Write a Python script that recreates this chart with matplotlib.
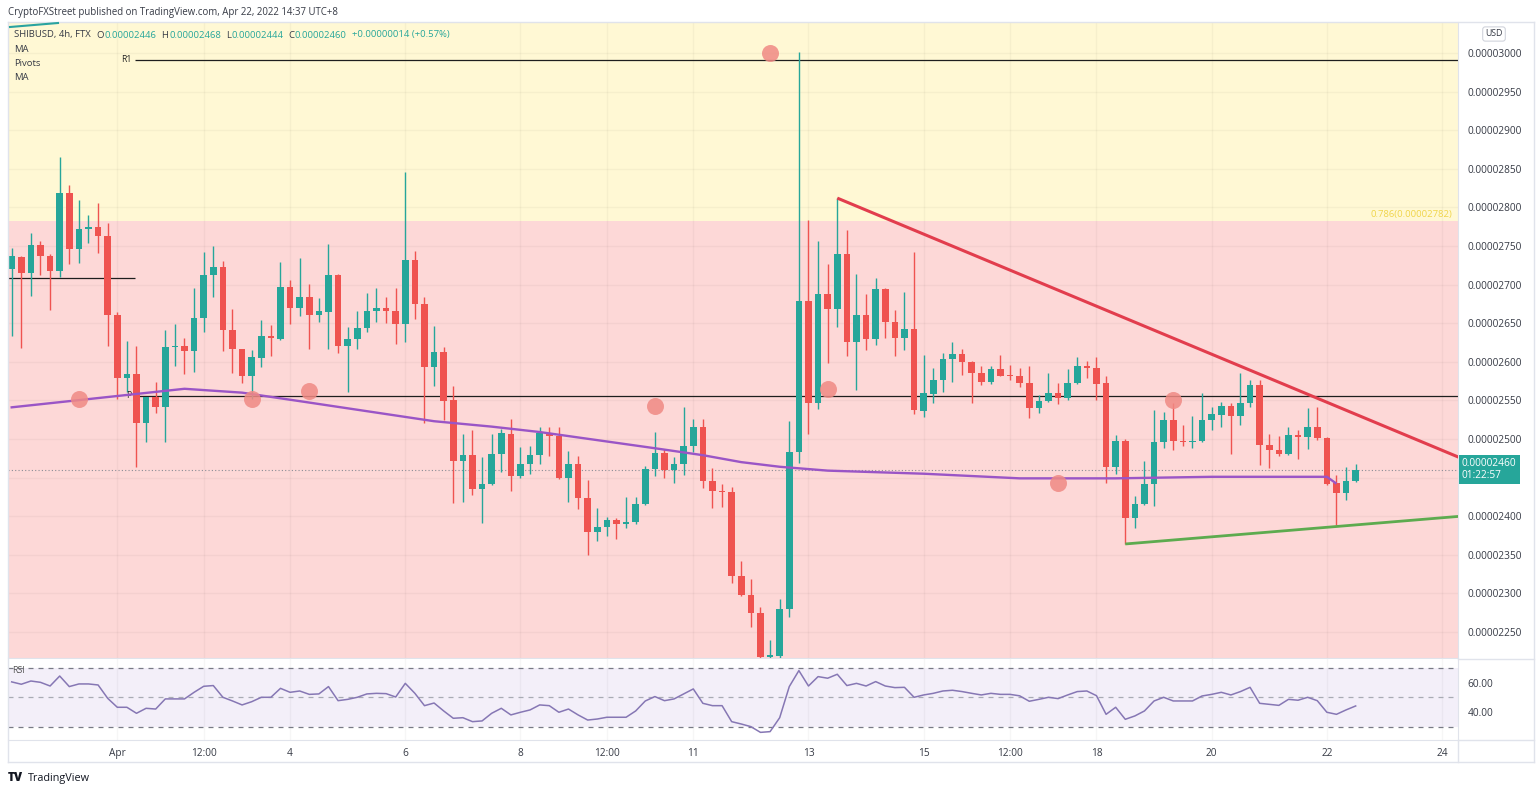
import numpy as np
import matplotlib.pyplot as plt
from matplotlib.lines import Line2D
from matplotlib.transforms import blended_transform_factory

plt.rcParams['font.family'] = ['Open Sans', 'DejaVu Sans']

W, H = 1536, 793

def fx(x):
    return x / W

def fy(y):
    return 1 - y / H

##########################################
######### Data (prices in 1e-8 USD, 4h candles from Mar 30 04:00)
opens = [2720, 2736, 2715, 2751, 2737, 2718, 2818, 2746, 2772, 2774,
         2763, 2660, 2579, 2584, 2521, 2554, 2541, 2619, 2620, 2614,
         2657, 2713, 2723, 2641, 2616, 2582, 2605, 2634, 2630, 2697,
         2670, 2684, 2661, 2665, 2713, 2620, 2630, 2644, 2666, 2670,
         2666, 2649, 2732, 2675, 2593, 2613, 2550, 2472, 2479, 2435,
         2442, 2480, 2507, 2452, 2468, 2479, 2508, 2504, 2450, 2467,
         2424, 2380, 2386, 2395, 2390, 2392, 2416, 2461, 2482, 2460,
         2467, 2491, 2516, 2446, 2432, 2431, 2323, 2298, 2275, 2217,
         2219, 2280, 2483, 2679, 2546, 2688, 2669, 2739, 2626, 2661,
         2629, 2694, 2651, 2631, 2643, 2536, 2558, 2577, 2604, 2610,
         2600, 2585, 2574, 2590, 2582, 2581, 2573, 2540, 2549, 2560,
         2553, 2573, 2594, 2592, 2572, 2464, 2498, 2398, 2416, 2442,
         2496, 2524, 2498, 2496, 2498, 2525, 2531, 2543, 2530, 2546,
         2570, 2492, 2486, 2480, 2505, 2502, 2515, 2501, 2443, 2430,
         2446]
highs = [2747, 2737, 2767, 2757, 2739, 2865, 2829, 2809, 2790, 2806,
         2780, 2664, 2627, 2620, 2554, 2574, 2641, 2649, 2631, 2695,
         2742, 2750, 2731, 2669, 2617, 2615, 2654, 2647, 2729, 2706,
         2735, 2701, 2682, 2752, 2714, 2645, 2666, 2689, 2696, 2684,
         2696, 2846, 2744, 2684, 2646, 2619, 2568, 2507, 2511, 2477,
         2507, 2513, 2526, 2490, 2491, 2516, 2516, 2516, 2485, 2478,
         2447, 2410, 2399, 2398, 2425, 2425, 2465, 2509, 2487, 2477,
         2542, 2526, 2526, 2463, 2442, 2438, 2342, 2319, 2282, 2239,
         2293, 2523, 3001, 2783, 2756, 2727, 2812, 2771, 2714, 2688,
         2709, 2695, 2667, 2690, 2742, 2609, 2592, 2611, 2626, 2617,
         2601, 2594, 2594, 2609, 2596, 2592, 2594, 2557, 2585, 2572,
         2590, 2606, 2601, 2606, 2581, 2505, 2500, 2426, 2471, 2537,
         2535, 2547, 2518, 2530, 2560, 2542, 2548, 2546, 2586, 2577,
         2577, 2506, 2504, 2515, 2512, 2540, 2541, 2502, 2453, 2464,
         2468]
lows = [2634, 2618, 2685, 2712, 2667, 2710, 2726, 2728, 2754, 2741,
        2621, 2552, 2561, 2464, 2496, 2533, 2496, 2595, 2584, 2587,
        2639, 2684, 2614, 2585, 2572, 2552, 2593, 2607, 2628, 2649,
        2659, 2616, 2652, 2617, 2611, 2561, 2616, 2639, 2652, 2650,
        2623, 2626, 2655, 2521, 2568, 2524, 2417, 2419, 2427, 2391,
        2441, 2457, 2433, 2450, 2454, 2468, 2478, 2448, 2419, 2409,
        2350, 2368, 2374, 2370, 2385, 2390, 2415, 2452, 2450, 2443,
        2453, 2483, 2437, 2411, 2412, 2313, 2296, 2257, 2205, 2205,
        2215, 2270, 2469, 2506, 2539, 2598, 2645, 2607, 2564, 2615,
        2622, 2631, 2607, 2615, 2532, 2529, 2546, 2561, 2574, 2583,
        2546, 2570, 2571, 2582, 2576, 2567, 2527, 2534, 2548, 2545,
        2551, 2571, 2579, 2550, 2443, 2455, 2364, 2385, 2414, 2413,
        2488, 2486, 2491, 2488, 2496, 2512, 2516, 2480, 2518, 2542,
        2466, 2462, 2478, 2479, 2474, 2487, 2499, 2440, 2388, 2421,
        2444]
closes = [2737, 2715, 2751, 2737, 2718, 2818, 2746, 2772, 2774, 2763,
          2660, 2579, 2584, 2521, 2554, 2541, 2619, 2620, 2614, 2657,
          2713, 2723, 2641, 2616, 2582, 2606, 2634, 2631, 2697, 2670,
          2684, 2661, 2666, 2713, 2620, 2630, 2644, 2666, 2670, 2666,
          2649, 2732, 2675, 2593, 2613, 2549, 2472, 2479, 2435, 2442,
          2480, 2508, 2452, 2468, 2479, 2508, 2504, 2450, 2467, 2424,
          2380, 2386, 2395, 2390, 2392, 2416, 2461, 2482, 2460, 2467,
          2491, 2516, 2446, 2432, 2431, 2323, 2298, 2275, 2217, 2220,
          2280, 2483, 2679, 2546, 2688, 2669, 2739, 2626, 2661, 2629,
          2694, 2651, 2631, 2643, 2537, 2559, 2577, 2604, 2610, 2600,
          2585, 2574, 2590, 2582, 2581, 2573, 2540, 2549, 2560, 2553,
          2573, 2594, 2592, 2571, 2464, 2498, 2398, 2416, 2442, 2496,
          2524, 2498, 2496, 2498, 2525, 2532, 2543, 2530, 2546, 2570,
          2492, 2486, 2480, 2505, 2502, 2515, 2501, 2442, 2430, 2446,
          2460]
rsi = [60.5, 58.9, 61.1, 60.2, 57.7, 64.5, 57.3, 59.1, 59.1, 58.4,
       49.3, 43.2, 43.2, 39.1, 42.5, 42.0, 48.9, 48.9, 48.9, 53.4,
       57.5, 58.0, 50.0, 47.5, 44.8, 47.0, 50.0, 50.0, 56.1, 53.4,
       54.3, 52.0, 52.3, 57.3, 47.7, 48.6, 50.0, 52.3, 52.7, 52.5,
       50.2, 59.5, 52.7, 44.3, 46.1, 40.7, 35.7, 36.1, 33.4, 33.9,
       39.1, 42.5, 38.0, 39.8, 41.4, 44.8, 44.3, 39.8, 42.0, 38.0,
       34.5, 35.2, 36.4, 36.4, 36.4, 40.7, 47.5, 50.5, 47.7, 48.9,
       52.3, 55.7, 45.9, 44.3, 44.3, 33.4, 31.8, 30.0, 26.1, 26.6,
       36.1, 57.3, 68.2, 57.7, 64.1, 63.0, 65.7, 58.0, 59.5, 57.7,
       60.7, 57.7, 56.6, 56.8, 50.0, 51.6, 52.7, 54.3, 54.8, 53.9,
       52.7, 51.6, 52.7, 52.0, 52.0, 51.0, 47.3, 48.6, 50.0, 49.1,
       51.6, 53.9, 54.3, 51.1, 38.4, 43.2, 35.0, 37.3, 40.7, 47.5,
       50.0, 47.5, 47.5, 47.5, 50.9, 52.0, 53.4, 51.6, 53.9, 56.8,
       45.9, 45.2, 44.5, 48.6, 48.0, 50.0, 47.7, 39.8, 38.4, 41.4,
       44.1]

# moving average read at a few candles
ma_idx = [0, 18, 24, 30, 44, 50, 55, 67, 72, 76, 80, 85, 95, 105, 115, 125, 137, 137.9]
ma_vals = [2541, 2565, 2560, 2549, 2523, 2516, 2509, 2488, 2479, 2470,
           2464, 2459, 2455, 2449, 2449, 2451, 2451, 2443]

# marked points
dot_idx = [7, 25, 31, 67, 79, 85, 109, 121]
dot_vals = [2552, 2552, 2562, 2543, 3000, 2565, 2443, 2550]

# pivots / fib
r1_level = 2991
p_level = 2556
prev_p_level = 2709
pivot_start = 12.85
fib_level = 2782

# trend lines (candle index, price)
res_line = ([86, 151], [2812, 2475])
sup_line = ([116, 151], [2364, 2400])

price_ticks = list(range(2250, 3001, 50))
tick_pos = [11, 20, 29, 41, 53, 62, 71, 83, 95, 104, 113, 125, 137, 149]
tick_labels = ["Apr", "12:00", "4", "6", "8", "12:00", "11", "13", "15",
               "12:00", "18", "20", "22", "24"]

GREEN = '#26a69a'
RED = '#ef5350'
TXT = '#363a45'
XLIM = (-0.385, 150.66)

##########################################
######### Figure
fig = plt.figure(figsize=(W / 100, H / 100), dpi=100)
fig.patch.set_facecolor('white')

ax = fig.add_axes([fx(8), fy(658), fx(1458) - fx(8), (658 - 22) / H])
ax.set_xlim(*XLIM)
ax.set_ylim(2216.3, 3040.1)
ax.axhspan(fib_level, 3200, color='#fff8d4', zorder=0, lw=0)
ax.axhspan(2000, fib_level, color='#fdd8d7', zorder=0, lw=0)
for p in price_ticks:
    ax.axhline(p, color='k', alpha=0.035, lw=1, zorder=0.5)
for t in tick_pos:
    ax.axvline(t, color='k', alpha=0.035, lw=1, zorder=0.5)

### candles
o = np.array(opens)
h = np.array(highs)
l = np.array(lows)
c = np.array(closes)
idx = np.arange(len(o))
cols = np.where(c >= o, GREEN, RED)
bottoms = np.minimum(o, c)
heights = np.maximum(np.abs(c - o), 1.3)
ax.vlines(idx, l, h, colors=cols, lw=1, zorder=3)
ax.bar(idx, heights, bottom=bottoms, width=0.7, color=cols, lw=0, zorder=4)

### pivots
ax.hlines([r1_level, p_level], pivot_start, XLIM[1], color='#1e1e1e', lw=0.9, zorder=2)
ax.hlines(prev_p_level, XLIM[0], pivot_start, color='#1e1e1e', lw=0.9, zorder=2)
ax.text(pivot_start - 0.4, r1_level, "R1", ha='right', va='center', fontsize=6.2, color='#222')
ax.text(pivot_start - 0.4, p_level, "P", ha='right', va='center', fontsize=6.2, color='#222', zorder=5)

### MA, last price
ax.plot(ma_idx, ma_vals, color='#9a55c6', lw=1.7, zorder=5)
ax.axhline(c[-1], color='#8a8d96', lw=0.8, ls=(0, (1, 2)), zorder=2)

### dots and trend lines
ax.scatter(dot_idx, dot_vals, s=150, color='#f08a84', alpha=0.85, lw=0, zorder=6)
ax.plot(res_line[0], res_line[1], color='#e23d4d', lw=2.2, zorder=7, solid_capstyle='butt')
ax.plot(sup_line[0], sup_line[1], color='#5dab4f', lw=2.0, zorder=7, solid_capstyle='butt')

ax.text(XLIM[1] - 0.6, fib_level + 3, "0.786(0.00002782)", ha='right', va='bottom',
        fontsize=6.8, color='#f0d54a')

### price axis (the label under the last price box is hidden, as on TradingView)
ax.yaxis.tick_right()
ax.set_yticks(price_ticks)
ax.set_yticklabels(["" if abs(p - c[-1]) < 20 else f"{p * 1e-8:.8f}" for p in price_ticks])
ax.tick_params(axis='y', length=0, pad=7, labelsize=7.3, labelcolor=TXT)
ax.set_xticks([])
for s in ['top', 'left']:
    ax.spines[s].set_visible(False)
for s in ['right', 'bottom']:
    ax.spines[s].set_color('#e0e3eb')

trans = blended_transform_factory(fig.transFigure, ax.transData)
ax.text(fx(1462), c[-1], f"{c[-1] * 1e-8:.8f}\n01:22:57", transform=trans,
        ha='left', va='center', color='white', fontsize=7.3, linespacing=1.15,
        bbox=dict(boxstyle='square,pad=0.3', fc=GREEN, ec='none'),
        clip_on=False, zorder=10)

##########################################
######### RSI pane
rax = fig.add_axes([fx(8), fy(740), fx(1458) - fx(8), (740 - 659) / H])
rax.set_xlim(*XLIM)
rax.set_ylim(20.9, 76.1)
rax.axhspan(30, 70, color='#7e57c2', alpha=0.09, lw=0)
for t in tick_pos:
    rax.axvline(t, color='k', alpha=0.035, lw=1)
rax.axhline(70, color='#787b86', lw=0.9, ls=(0, (4, 4)))
rax.axhline(50, color='#a8abb4', lw=0.9, ls=(0, (4, 4)))
rax.axhline(30, color='#787b86', lw=0.9, ls=(0, (4, 4)))
rax.plot(idx, rsi, color='#8677b4', lw=1.1)
rax.text(0.003, 0.86, "RSI", transform=rax.transAxes, fontsize=6.3, color='#555', va='center')

rax.yaxis.tick_right()
rax.set_yticks([40, 60])
rax.set_yticklabels(["40.00", "60.00"])
rax.tick_params(axis='y', length=0, pad=7, labelsize=7.3, labelcolor=TXT)
rax.set_xticks(tick_pos)
rax.set_xticklabels(tick_labels)
rax.tick_params(axis='x', length=0, pad=6, labelsize=7.3, labelcolor=TXT)
for s in ['top', 'left']:
    rax.spines[s].set_visible(False)
for s in ['right', 'bottom']:
    rax.spines[s].set_color('#e0e3eb')

### frame lines
frame = [([8, 1534], [762, 762]), ([8, 1534], [22, 22]), ([1534, 1534], [22, 762]),
         ([1458, 1458], [740, 762]), ([1458, 1534], [740, 740]), ([1458, 1534], [659, 659]),
         ([8, 8], [22, 762])]
for xs, ys in frame:
    fig.add_artist(Line2D([fx(v) for v in xs], [fy(v) for v in ys], color='#e0e3eb', lw=1))
fig.add_artist(Line2D([fx(10), fx(58)], [fy(27), fy(23)], color='#2aa3a0', lw=1.5))

##########################################
######### Texts
fig.text(fx(8), fy(12), "CryptoFXStreet published on TradingView.com, Apr 22, 2022 14:37 UTC+8",
         fontsize=6.9, color=TXT, va='center')
fig.text(fx(1494), fy(34), "USD", ha='center', va='center', fontsize=6.3, color=TXT,
         bbox=dict(boxstyle='round,pad=0.3', fc='white', ec='#d1d4dc', lw=0.8))

### legend line, laid out piece by piece
chg = c[-1] - c[-2]
pct = chg / c[-2] * 100
legend_parts = [("SHIBUSD, 4h, FTX", TXT, 6),
                ("O", TXT, 0.5), (f"{o[-1] * 1e-8:.8f}", GREEN, 5),
                ("H", TXT, 0.5), (f"{h[-1] * 1e-8:.8f}", GREEN, 5),
                ("L", TXT, 0.5), (f"{l[-1] * 1e-8:.8f}", GREEN, 5),
                ("C", TXT, 0.5), (f"{c[-1] * 1e-8:.8f}", GREEN, 5),
                (f"+{chg * 1e-8:.8f} (+{pct:.2f}%)", GREEN, 0)]
renderer = fig.canvas.get_renderer()
x = 14
for s, col, gap in legend_parts:
    t = fig.text(fx(x), fy(35), s, fontsize=6.8, color=col, va='center')
    x = t.get_window_extent(renderer).x1 + gap
for y, s in [(49, "MA"), (63, "Pivots"), (77, "MA")]:
    fig.text(fx(14), fy(y), s, fontsize=6.8, color=TXT, va='center')

fig.text(fx(8), fy(778), "TV", fontsize=8.5, fontweight='heavy', color='#131722', va='center')
fig.text(fx(28), fy(778), "TradingView", fontsize=7.8, color='#131722', va='center')

fig.savefig("out.png", dpi=100)
